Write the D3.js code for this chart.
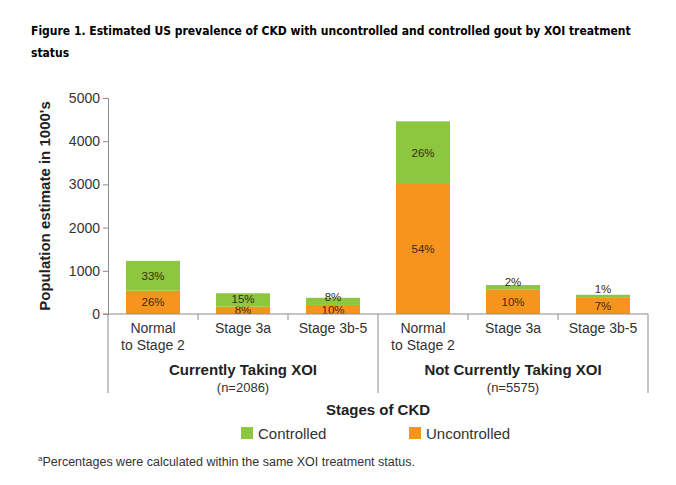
<!DOCTYPE html>
<html>
<head>
<meta charset="utf-8">
<script src="https://cdn.jsdelivr.net/npm/d3@7"></script>
<style>
  body { margin: 0; background: #fff; }
  text { font-family: "Liberation Sans", Arial, sans-serif; fill: #333; }
  .title { font-family: "DejaVu Sans Condensed", "DejaVu Sans", sans-serif; font-stretch: condensed; }
</style>
</head>
<body>
<svg id="chart" width="676" height="485"></svg>
<script>
// data (population in 1000's)
var groups = ['Currently Taking XOI', 'Not Currently Taking XOI'];
var groupN = ['(n=2086)', '(n=5575)'];
var stages = [['Normal', 'to Stage 2'], ['Stage 3a'], ['Stage 3b-5']];
var uncontrolled = [540, 170, 210, 3010, 560, 390];
var controlled = [690, 310, 165, 1450, 110, 55];
var uncontrolledPct = ['26%', '8%', '10%', '54%', '10%', '7%'];
var controlledPct = ['33%', '15%', '8%', '26%', '2%', '1%'];
var yTicks = [0, 1000, 2000, 3000, 4000, 5000];

var green = '#8dc63f';
var orange = '#f7941d';
var axisColor = '#8c8c8c';

var svg = d3.select('#chart');

// title
svg.append('text').attr('class', 'title')
    .attr('x', 31).attr('y', 35)
    .style('font-size', '12px').style('font-weight', 'bold').style('fill', '#000')
    .text('Figure 1.  Estimated US prevalence of CKD with uncontrolled and controlled gout by XOI treatment');
svg.append('text').attr('class', 'title')
    .attr('x', 31).attr('y', 57)
    .style('font-size', '12px').style('font-weight', 'bold').style('fill', '#000')
    .text('status');

var keys = d3.range(6);
var x = d3.scaleBand().domain(keys).range([108, 648]).paddingInner(0.4).paddingOuter(0.2);
var y = d3.scaleLinear().domain([0, 5000]).range([314, 98]);

// y axis
var yAxis = svg.append('g')
    .attr('transform', 'translate(108,0)')
    .call(d3.axisLeft(y).tickValues(yTicks).tickSize(5).tickPadding(3).tickFormat(d3.format('d')));
yAxis.select('.domain').attr('stroke', axisColor);
yAxis.selectAll('.tick line').attr('stroke', axisColor);
yAxis.selectAll('.tick text').style('font-size', '14px').style('fill', '#333')
    .style('font-family', '"Liberation Sans", Arial, sans-serif');

svg.append('text')
    .attr('transform', 'translate(50,206) rotate(-90)')
    .attr('text-anchor', 'middle')
    .style('font-size', '15px').style('font-weight', 'bold').style('fill', '#222')
    .text("Population estimate in 1000's");

// stacked bars
var stackData = keys.map(function (i) {
    return { i: i, unc: uncontrolled[i], con: controlled[i] };
});
var series = d3.stack().keys(['unc', 'con'])(stackData);
var colors = { unc: orange, con: green };
var pcts = { unc: uncontrolledPct, con: controlledPct };

series.forEach(function (s) {
    var g = svg.append('g');
    g.selectAll('rect').data(s).enter().append('rect')
        .attr('x', function (d) { return x(d.data.i); })
        .attr('width', x.bandwidth())
        .attr('y', function (d) { return y(d[1]); })
        .attr('height', function (d) { return y(d[0]) - y(d[1]); })
        .attr('fill', colors[s.key]);
    g.selectAll('text').data(s).enter().append('text')
        .attr('x', function (d) { return x(d.data.i) + x.bandwidth() / 2; })
        .attr('y', function (d) {
            var mid = (y(d[0]) + y(d[1])) / 2;
            // small top segments: keep the label just above the lower segment
            if (s.key === 'con') return Math.min(mid, y(d[0]) - 8);
            return mid;
        })
        .attr('dy', '0.36em')
        .attr('text-anchor', 'middle')
        .style('font-size', '11.5px').style('fill', '#3a2a10')
        .text(function (d) { return pcts[s.key][d.data.i]; });
});

// x baseline
svg.append('line')
    .attr('x1', 103).attr('x2', 648).attr('y1', y(0)).attr('y2', y(0))
    .attr('stroke', axisColor);

// group separators and category ticks
var step = x.step();
[0, 3, 6].forEach(function (k) {
    var xx = 108 + step * k;
    svg.append('line')
        .attr('x1', xx).attr('x2', xx).attr('y1', y(0)).attr('y2', 393)
        .attr('stroke', axisColor);
});
[1, 2, 4, 5].forEach(function (k) {
    var xx = 108 + step * k;
    svg.append('line')
        .attr('x1', xx).attr('x2', xx).attr('y1', y(0)).attr('y2', y(0) + 6)
        .attr('stroke', axisColor);
});

// category labels
keys.forEach(function (i) {
    var lines = stages[i % 3];
    lines.forEach(function (ln, j) {
        svg.append('text')
            .attr('x', x(i) + x.bandwidth() / 2)
            .attr('y', 333 + j * 17)
            .attr('text-anchor', 'middle')
            .style('font-size', '14px')
            .text(ln);
    });
});

// group labels
groups.forEach(function (gname, gi) {
    var cx = 108 + step * (gi * 3 + 1.5);
    svg.append('text')
        .attr('x', cx).attr('y', 375)
        .attr('text-anchor', 'middle')
        .style('font-size', '15px').style('font-weight', 'bold').style('fill', '#222')
        .text(gname);
    svg.append('text')
        .attr('x', cx).attr('y', 392)
        .attr('text-anchor', 'middle')
        .style('font-size', '13px')
        .text(groupN[gi]);
});

svg.append('text')
    .attr('x', 378).attr('y', 415)
    .attr('text-anchor', 'middle')
    .style('font-size', '15px').style('font-weight', 'bold').style('fill', '#222')
    .text('Stages of CKD');

// legend
var legend = [['Controlled', green, 241], ['Uncontrolled', orange, 409]];
legend.forEach(function (l) {
    svg.append('rect').attr('x', l[2]).attr('y', 427).attr('width', 12).attr('height', 12).attr('fill', l[1]);
    svg.append('text').attr('x', l[2] + 17).attr('y', 439)
        .style('font-size', '15px').text(l[0]);
});

// footnote
var fn = svg.append('text').attr('x', 38).attr('y', 466).style('font-size', '12.5px');
fn.append('tspan').attr('dy', '-5').style('font-size', '8px').text('a');
fn.append('tspan').attr('dy', '5').text('Percentages were calculated within the same XOI treatment status.');
</script>
</body>
</html>
